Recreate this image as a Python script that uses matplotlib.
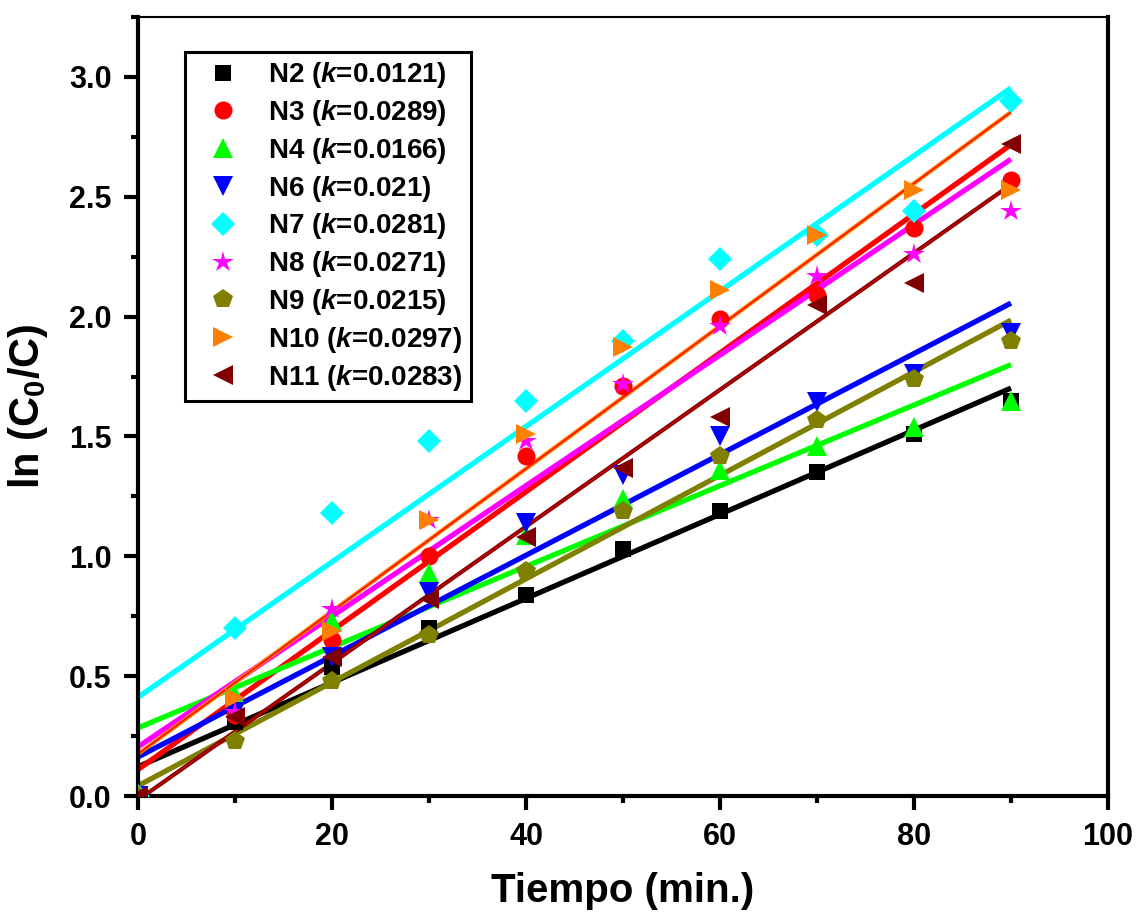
import numpy as np
import matplotlib
matplotlib.use("Agg")
import matplotlib.pyplot as plt
from matplotlib.ticker import MultipleLocator

plt.rcParams['font.family'] = ['Liberation Sans', 'DejaVu Sans']
plt.rcParams['font.weight'] = 'bold'
plt.rcParams['mathtext.fontset'] = 'custom'
plt.rcParams['mathtext.rm'] = 'Liberation Sans:bold'
plt.rcParams['mathtext.it'] = 'Liberation Sans:bold:italic'
plt.rcParams['mathtext.bf'] = 'Liberation Sans:bold'

time = [0, 10, 20, 30, 40, 50, 60, 70, 80, 90]

n2 = [0, 0.31, 0.54, 0.70, 0.84, 1.03, 1.19, 1.35, 1.51, 1.65]
n3 = [0, 0.34, 0.65, 1.00, 1.42, 1.71, 1.99, 2.09, 2.37, 2.57]
n4 = [0, 0.42, 0.73, 0.93, 1.09, 1.24, 1.36, 1.46, 1.54, 1.65]
n6 = [0, 0.35, 0.58, 0.85, 1.14, 1.34, 1.50, 1.645, 1.76, 1.93]
n7 = [0, 0.70, 1.18, 1.48, 1.65, 1.90, 2.24, 2.34, 2.44, 2.90]
n8 = [0, 0.35, 0.78, 1.15, 1.48, 1.72, 1.96, 2.17, 2.26, 2.44]
n9 = [0, 0.23, 0.48, 0.67, 0.94, 1.19, 1.42, 1.57, 1.74, 1.90]
n10 = [0, 0.41, 0.69, 1.15, 1.51, 1.875, 2.11, 2.34, 2.53, 2.53]
n11 = [0, 0.33, 0.58, 0.82, 1.08, 1.37, 1.58, 2.05, 2.14, 2.72]

labels = ['N2', 'N3', 'N4', 'N6', 'N7', 'N8', 'N9', 'N10', 'N11']
k_values = ['0.0121', '0.0289', '0.0166', '0.021', '0.0281', '0.0271', '0.0215', '0.0297', '0.0283']
series = [n2, n3, n4, n6, n7, n8, n9, n10, n11]
colors = ['#000000', '#FF0000', '#00FF00', '#0000FF', '#00FFFF', '#FF00FF', '#808000', '#FF8000', '#800000']
markers = ['s', 'o', '^', 'v', 'D', '*', 'p', '>', '<']
msizes = [12, 13, 14, 14, 12, 16, 15, 14, 14]
inner = {7: '#FF0000', 8: '#CC0000'}

fig = plt.figure(figsize=(11.38, 9.23), dpi=100)
ax = fig.add_axes([138/1138, 1 - 796/923, 970/1138, 779/923])

x = np.array(time, dtype=float)
xf = np.array([0, 90], dtype=float)
for i, ys in enumerate(series):
    y = np.array(ys, dtype=float)
    p = np.polyfit(x, y, 1)
    yf = np.polyval(p, xf)
    if i in inner:
        ax.plot(xf, yf, color=colors[i], lw=3.0, zorder=2, solid_capstyle='butt')
        ax.plot(xf, yf, color=inner[i], lw=1.0, zorder=2.1, solid_capstyle='butt')
    else:
        ax.plot(xf, yf, color=colors[i], lw=3.8, zorder=2, solid_capstyle='butt')

for i, ys in enumerate(series):
    ax.plot(time, ys, linestyle='none', marker=markers[i], ms=msizes[i],
            color=colors[i], markeredgewidth=0, zorder=3, clip_on=True,
            label=f'{labels[i]} ($k$={k_values[i]})')

ax.set_xlim(0, 100)
ax.set_ylim(0, 3.25)
ax.xaxis.set_major_locator(MultipleLocator(20))
ax.xaxis.set_minor_locator(MultipleLocator(10))
ax.yaxis.set_major_locator(MultipleLocator(0.5))
ax.yaxis.set_minor_locator(MultipleLocator(0.25))
ax.yaxis.set_major_formatter(matplotlib.ticker.FormatStrFormatter('%.1f'))

ax.tick_params(which='major', direction='out', length=10, width=3, labelsize=22, pad=9)
ax.tick_params(which='minor', direction='out', length=5, width=3)
ax.tick_params(top=False, right=False)
for lab in ax.get_xticklabels() + ax.get_yticklabels():
    lab.set_fontweight('bold')

for s in ['left', 'bottom', 'right']:
    ax.spines[s].set_linewidth(3)
ax.spines['top'].set_linewidth(1.5)

ax.set_xlabel('Tiempo (min.)', fontsize=29, fontweight='bold', labelpad=14)
ax.set_ylabel('ln (C$_\\mathrm{0}$/C)', fontsize=30, fontweight='bold', labelpad=14)

leg = ax.legend(loc='upper left', bbox_to_anchor=(47/970, 1 - 35/779), fontsize=20,
                frameon=True, fancybox=False, edgecolor='black', framealpha=1,
                borderpad=0.3, labelspacing=0.28, handletextpad=0.6, handlelength=2.1,
                borderaxespad=0)
leg.get_frame().set_linewidth(2.2)
for t in leg.get_texts():
    t.set_fontweight('bold')

fig.savefig('out.png', dpi=100)
